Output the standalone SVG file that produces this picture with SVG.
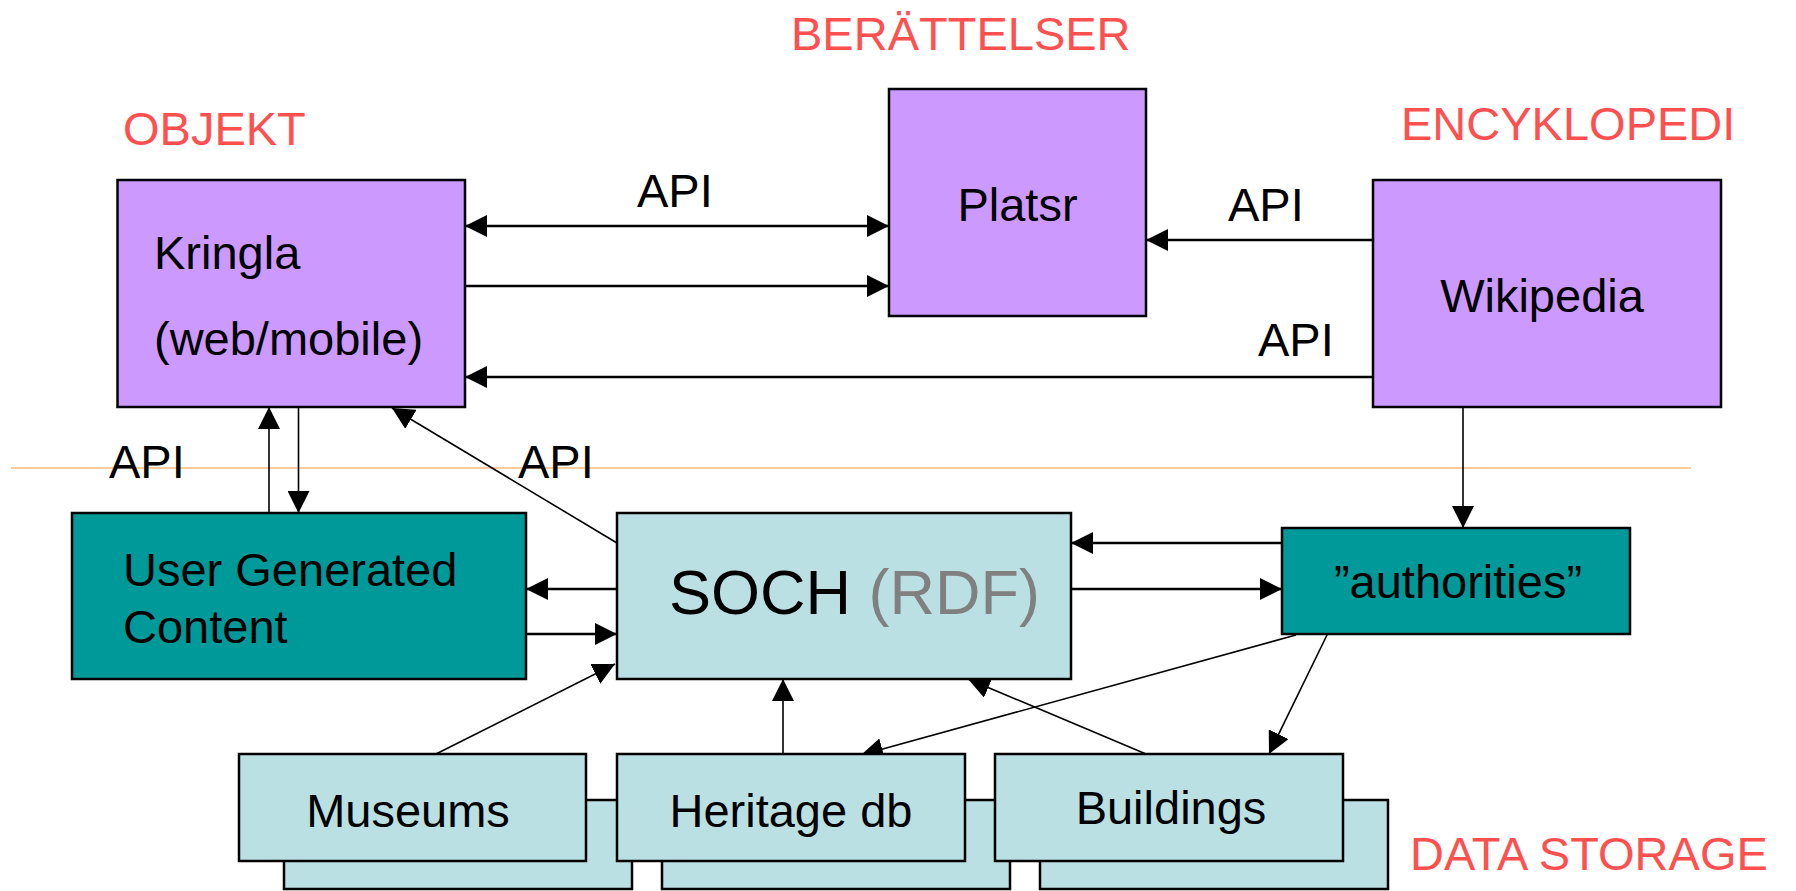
<svg xmlns="http://www.w3.org/2000/svg" width="1796" height="891" viewBox="0 0 1796 891">
<style>
text{font-family:"Liberation Sans",Arial,sans-serif;font-size:47px;fill:#000}
.lab{fill:#FF5050}
.box{stroke:#000;stroke-width:2.5}
.purple{fill:#CC99FF}
.teal{fill:#009999}
.light{fill:#BBE0E3}
.c{stroke:#000;fill:none}
.thick{stroke-width:2.5}
.thin{stroke-width:1.6}
</style>
<defs>
<marker id="ah" markerUnits="userSpaceOnUse" markerWidth="22" markerHeight="22" refX="20" refY="10" orient="auto-start-reverse" viewBox="0 0 20 20">
<path d="M0,0 L20,10 L0,20 z" fill="#000"/>
</marker>
</defs>
<rect width="1796" height="891" fill="#fff"/>
<line x1="11" y1="468" x2="1691" y2="468" stroke="#FFCC99" stroke-width="2"/>
<text class="lab" x="123" y="145">OBJEKT</text>
<text class="lab" x="791" y="50">BERÄTTELSER</text>
<text class="lab" x="1401" y="140">ENCYKLOPEDI</text>
<text class="lab" x="1410" y="870">DATA STORAGE</text>
<g id="back-boxes">
<rect class="box light" x="284" y="800" width="348" height="89"/>
<rect class="box light" x="662" y="800" width="348" height="89"/>
<rect class="box light" x="1040" y="800" width="348" height="89"/>
</g>
<g id="connectors">
<line class="c thick" x1="465" y1="226" x2="889" y2="226" marker-start="url(#ah)" marker-end="url(#ah)"/>
<line class="c thick" x1="465" y1="286" x2="889" y2="286" marker-end="url(#ah)"/>
<line class="c thick" x1="1373" y1="377" x2="465" y2="377" marker-end="url(#ah)"/>
<line class="c thick" x1="1373" y1="240" x2="1146" y2="240" marker-end="url(#ah)"/>
<line class="c thin" x1="269" y1="513" x2="269" y2="407" marker-end="url(#ah)"/>
<line class="c thin" x1="298.5" y1="407" x2="298.5" y2="513" marker-end="url(#ah)"/>
<line class="c thin" x1="617" y1="543" x2="392" y2="408" marker-end="url(#ah)"/>
<line class="c thick" x1="617" y1="589" x2="526" y2="589" marker-end="url(#ah)"/>
<line class="c thick" x1="526" y1="634" x2="617" y2="634" marker-end="url(#ah)"/>
<line class="c thick" x1="1071" y1="589" x2="1282" y2="589" marker-end="url(#ah)"/>
<line class="c thick" x1="1282" y1="543" x2="1071" y2="543" marker-end="url(#ah)"/>
<line class="c thin" x1="1463" y1="407" x2="1463" y2="528" marker-end="url(#ah)"/>
<line class="c thin" x1="436" y1="754" x2="615" y2="664" marker-end="url(#ah)"/>
<line class="c thin" x1="783" y1="754" x2="783" y2="679" marker-end="url(#ah)"/>
<line class="c thin" x1="1296" y1="635" x2="861" y2="755" marker-end="url(#ah)"/>
<line class="c thin" x1="1327" y1="635" x2="1269" y2="754" marker-end="url(#ah)"/>
<line class="c thin" x1="1146" y1="754" x2="968" y2="679" marker-end="url(#ah)"/>
</g>
<g id="kringla">
<rect class="box purple" x="117.5" y="180" width="347.5" height="227"/>
<text x="154" y="269">Kringla</text>
<text x="154" y="355">(web/mobile)</text>
</g>
<g id="platsr">
<rect class="box purple" x="889" y="89" width="257" height="227"/>
<text x="1017.5" y="221" text-anchor="middle">Platsr</text>
</g>
<g id="wikipedia">
<rect class="box purple" x="1373" y="180" width="348" height="227"/>
<text x="1542" y="312" text-anchor="middle">Wikipedia</text>
</g>
<g id="api-labels">
<text x="637" y="207">API</text>
<text x="1228" y="221">API</text>
<text x="1258" y="356">API</text>
<text x="109" y="478">API</text>
<text x="518" y="478">API</text>
</g>
<g id="ugc">
<rect class="box teal" x="72" y="513" width="454" height="166"/>
<text x="123" y="586">User Generated</text>
<text x="123" y="643">Content</text>
</g>
<g id="soch">
<rect class="box light" x="617" y="513" width="454" height="166"/>
<text x="669" y="614" style="font-size:63px">SOCH <tspan fill="#808080">(RDF)</tspan></text>
</g>
<g id="authorities">
<rect class="box teal" x="1282" y="528" width="348" height="106"/>
<text x="1458" y="598" text-anchor="middle">”authorities”</text>
</g>
<g id="museums">
<rect class="box light" x="239" y="754" width="347" height="107"/>
<text x="408" y="827" text-anchor="middle">Museums</text>
</g>
<g id="heritage">
<rect class="box light" x="617" y="754" width="348" height="107"/>
<text x="791" y="827" text-anchor="middle">Heritage db</text>
</g>
<g id="buildings">
<rect class="box light" x="995" y="754" width="348" height="107"/>
<text x="1171" y="824" text-anchor="middle">Buildings</text>
</g>
</svg>
